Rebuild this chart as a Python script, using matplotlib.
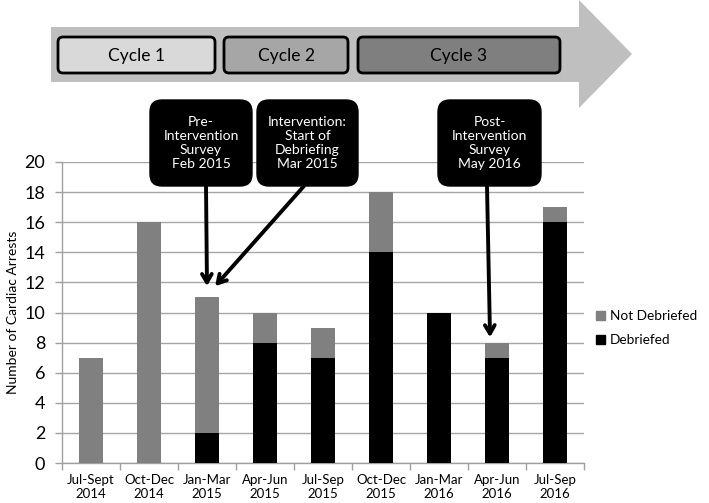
import matplotlib
matplotlib.use("Agg")
import matplotlib.pyplot as plt
from matplotlib.patches import FancyBboxPatch, Polygon, Patch

plt.rcParams['font.family'] = ['Lato', 'DejaVu Sans']

categories = ["Jul-Sept\n2014", "Oct-Dec\n2014", "Jan-Mar\n2015", "Apr-Jun\n2015",
              "Jul-Sep\n2015", "Oct-Dec\n2015", "Jan-Mar\n2016", "Apr-Jun\n2016",
              "Jul-Sep\n2016"]
debriefed = [0, 0, 2, 8, 7, 14, 10, 7, 16]
not_debriefed = [7, 16, 9, 2, 2, 4, 0, 1, 1]
y_ticks = list(range(0, 21, 2))

cycle_labels = ["Cycle 1", "Cycle 2", "Cycle 3"]
callout_texts = ["Pre-\nIntervention\nSurvey\nFeb 2015",
                 "Intervention:\nStart of\nDebriefing\nMar 2015",
                 "Post-\nIntervention\nSurvey\nMay 2016"]

W, H = 709, 503
fig = plt.figure(figsize=(W / 100, H / 100), dpi=100)

# main axes
ax = fig.add_axes([62 / W, 1 - 463 / H, 522 / W, 301 / H])
x = list(range(len(categories)))
ax.bar(x, debriefed, width=0.41, color="black", zorder=3, label="Debriefed")
ax.bar(x, not_debriefed, bottom=debriefed, width=0.41, color="#808080", zorder=3,
       label="Not Debriefed")
ax.set_xlim(-0.5, len(categories) - 0.5)
ax.set_ylim(0, 20)
ax.set_yticks(y_ticks)
ax.set_yticklabels([str(v) for v in y_ticks], fontsize=13)
ax.tick_params(axis='y', length=5, width=1, color="#a0a0a0", pad=7)
ax.set_xticks(x)
ax.set_xticklabels(categories, fontsize=9.5)
ax.tick_params(axis='x', which='major', length=0, pad=8)
ax.set_xticks([i - 0.5 for i in range(len(categories) + 1)], minor=True)
ax.tick_params(axis='x', which='minor', length=5, width=1, color="#a0a0a0")
ax.grid(axis='y', color="#a6a6a6", linewidth=1, zorder=0)
for s in ["top", "right"]:
    ax.spines[s].set_visible(False)
for s in ["left", "bottom"]:
    ax.spines[s].set_color("#a0a0a0")
    ax.spines[s].set_linewidth(1)
ax.set_ylabel("Number of Cardiac Arrests", fontsize=10)
ax.yaxis.set_label_coords(-0.082, 0.5)

handles = [Patch(color="#808080"), Patch(color="black")]
fig.legend(handles, ["Not Debriefed", "Debriefed"], loc="center left",
           bbox_to_anchor=(596 / W, 1 - 328 / H), frameon=False, fontsize=9.8,
           handlelength=0.65, handleheight=0.65, handletextpad=0.35, labelspacing=0.9,
           borderaxespad=0, borderpad=0)

# overlay axes in pixel coordinates
ov = fig.add_axes([0, 0, 1, 1], zorder=5)
ov.set_xlim(0, W)
ov.set_ylim(H, 0)
ov.axis("off")
ov.patch.set_visible(False)

# big arrow band
ov.add_patch(Polygon([(51, 27), (579, 27), (579, 0), (632, 54), (579, 108),
                      (579, 82), (51, 82)], closed=True, facecolor="#bfbfbf",
                     edgecolor="none"))
cycle_boxes = [(58, 215, "#d9d9d9"), (224, 348, "#a6a6a6"), (358, 560, "#7f7f7f")]
for (x0, x1, col), lab in zip(cycle_boxes, cycle_labels):
    ov.add_patch(FancyBboxPatch((x0, 37), x1 - x0, 36,
                                boxstyle="round,pad=0,rounding_size=5",
                                facecolor=col, edgecolor="black", linewidth=2))
    ov.text((x0 + x1) / 2, 56, lab, ha="center", va="center", fontsize=12.5)

# callouts
callout_boxes = [(150, 252), (257, 358), (438, 541)]
for (x0, x1), t in zip(callout_boxes, callout_texts):
    ov.add_patch(FancyBboxPatch((x0, 100), x1 - x0, 86,
                                boxstyle="round,pad=0,rounding_size=12",
                                facecolor="black", edgecolor="black", linewidth=1))
    ov.text((x0 + x1) / 2, 143, t, ha="center", va="center", fontsize=10,
            color="white", linespacing=1.2)

arrow_props = dict(arrowstyle="->,head_length=0.6,head_width=0.35", color="black",
                   lw=2.8, shrinkA=0, shrinkB=0)
totals = [d + n for d, n in zip(debriefed, not_debriefed)]
ov.annotate("", xy=(2.0, totals[2] + 0.75), xycoords=ax.transData,
            xytext=(206, 186), textcoords=ov.transData, arrowprops=arrow_props)
ov.annotate("", xy=(2.14, totals[2] + 0.75), xycoords=ax.transData,
            xytext=(304, 186), textcoords=ov.transData, arrowprops=arrow_props)
ov.annotate("", xy=(6.88, totals[7] + 0.35), xycoords=ax.transData,
            xytext=(487, 186), textcoords=ov.transData, arrowprops=arrow_props)

fig.savefig("out.png", dpi=100)
